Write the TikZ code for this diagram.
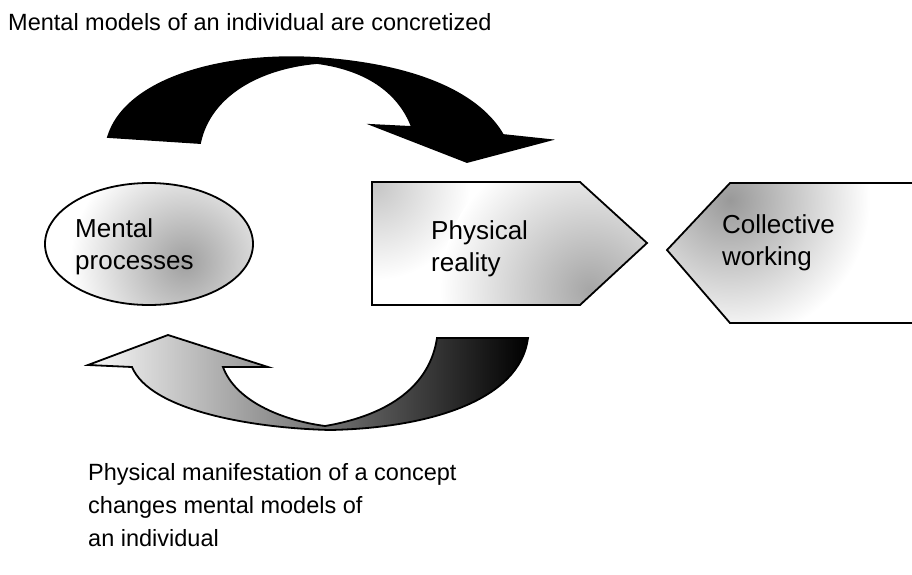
\documentclass[tikz,border=0pt]{standalone}
\usepackage{fontspec}
\setmainfont{Liberation Sans}
\usepackage{tikz}
\usetikzlibrary{shapes.geometric, positioning, calc}

\tikzset{
  outline/.style={draw=black, line width=1.8pt, line join=miter},
  blackarrow/.style={outline, fill=black},
  fadearrow/.style={outline, left color=gray!5, middle color=black, right color=black},
  speckle/.style={inner color=gray!#1, outer color=white},
  mindshape/.style={ellipse, outline, minimum width=208pt, minimum height=122pt, inner sep=0pt},
  boxtext/.style={align=left, inner sep=0pt, anchor=west,
    font=\fontsize{26}{32}\selectfont}
}

\begin{document}
\begin{tikzpicture}[x=1pt, y=-1pt, font=\fontsize{23.5}{33}\selectfont]

    \path[use as bounding box, clip] (0,0) rectangle (912,574);

    % --- Upper arrow: individual -> reality ---
    \draw[blackarrow] (108,137) .. controls (125,80) and (220,52) .. (317,58)
        .. controls (420,65) and (480,95) .. (503,135)
        -- (550,140) -- (467,162) -- (372,125) -- (412,127)
        .. controls (400,95) and (370,70) .. (317,63)
        .. controls (260,68) and (210,95) .. (200,143) -- cycle;

    % --- Lower arrow: reality -> individual ---
    \draw[fadearrow] (528,338) -- (437,338)
        .. controls (430,385) and (390,415) .. (325,426)
        .. controls (280,420) and (235,400) .. (223,367)
        -- (268,367) -- (168,335) -- (88,365) -- (132,367)
        .. controls (150,410) and (250,428) .. (330,430)
        .. controls (430,428) and (520,400) .. (528,338) -- cycle;

    % --- Mental processes ---
    \begin{scope}
        \clip (149,244) ellipse [x radius=104, y radius=61];
        \fill[white] (45,183) rectangle (253,305);
        \shade[speckle=75] (185,262) circle (115);
    \end{scope}
    \node[mindshape] (mental) at (149,244) {};
    \node[boxtext] (mentaltext) at (75,247) {Mental\\processes};

    % --- Physical reality (points right) ---
    \begin{scope}
        \clip (372,182) -- (580,182) -- (647,243) -- (580,305) -- (372,305) -- cycle;
        \fill[white] (372,182) rectangle (647,305);
        \shade[speckle=45] (375,185) circle (95);
        \shade[speckle=70] (590,290) circle (150);
    \end{scope}
    \draw[outline] (372,182) -- (580,182) -- (647,243) -- (580,305) -- (372,305) -- cycle;
    \node[boxtext] (physical) at (431,249) {Physical\\reality};

    % --- Collective working (points left, runs off the page) ---
    \begin{scope}
        \clip (916,183) -- (730,183) -- (667,250) -- (730,323) -- (916,323) -- cycle;
        \fill[white] (667,183) rectangle (916,323);
        \shade[speckle=80] (730,200) circle (140);
    \end{scope}
    \draw[outline] (916,183) -- (730,183) -- (667,250) -- (730,323) -- (916,323);
    \node[boxtext] (collective) at (722,243) {Collective\\working};

    % --- Texts ---
    \node[anchor=base west, inner sep=0pt] (top) at (8,30)
        {Mental models of an individual are concretized};
    \node[anchor=north west, align=left, inner sep=0pt] (bottom) at (88,463)
        {Physical manifestation of a concept\\changes mental models of\\an individual};

\end{tikzpicture}
\end{document}
